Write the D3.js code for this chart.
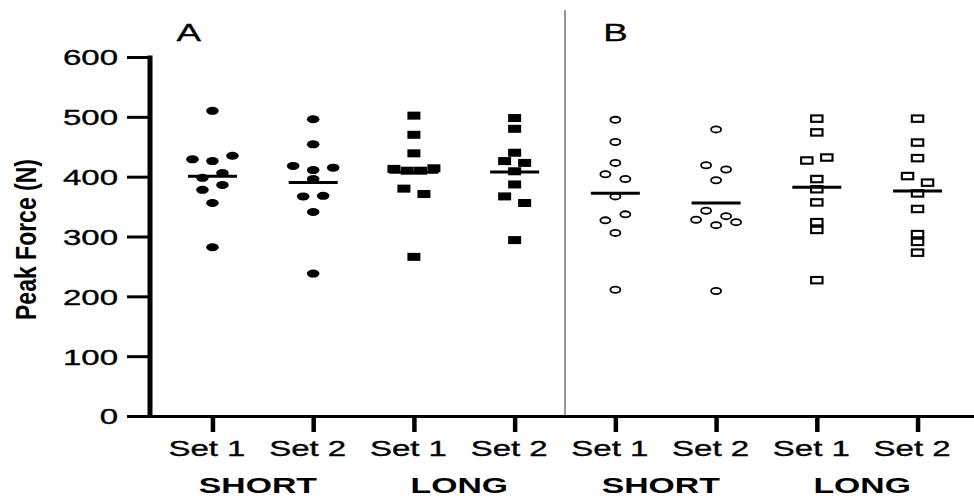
<!DOCTYPE html>
<html><head><meta charset="utf-8">
<script src="https://cdn.jsdelivr.net/npm/d3@7"></script>
<style>body{margin:0;background:#fff} svg{display:block}</style>
</head><body>
<svg id="chart" width="974" height="501"></svg>
<script>
// ---- data ----
const categories = ["Set 1","Set 2","Set 1","Set 2","Set 1","Set 2","Set 1","Set 2"];
const conditions = ["SHORT","LONG","SHORT","LONG"];
const panels = ["A","B"];
const yTicks = [0,100,200,300,400,500,600];
const yLabel = "Peak Force (N)";

const shortSet1A = [510, 429, 426, 435, 398, 406, 378, 386, 356, 282];
const shortSet2A = [496, 454, 418, 411, 415, 396, 367, 368, 341, 238];
const longSet1A  = [502, 470, 439, 413, 410, 410, 414, 380, 371, 266];
const longSet2A  = [498, 480, 440, 426, 423, 409, 387, 367, 356, 294];
const shortSet1B = [495, 458, 423, 404, 396, 367, 327, 337, 306, 211];
const shortSet2B = [479, 419, 412, 394, 343, 334, 328, 319, 324, 209];
const longSet1B  = [497, 474, 427, 432, 396, 379, 357, 324, 311, 227];
const longSet2B  = [497, 457, 431, 401, 390, 372, 346, 304, 291, 273];

const groups = [shortSet1A, shortSet2A, longSet1A, longSet2A, shortSet1B, shortSet2B, longSet1B, longSet2B];

// ---- drawing ----
const SX = 1.5;               // horizontal stretch of the original image
const FONT = "'Liberation Sans', Arial, Helvetica, sans-serif";
const svg = d3.select("#chart");

const x = d3.scalePoint().domain(d3.range(categories.length)).range([150, 980]).padding(0.62);
const y = d3.scaleLinear().domain([0, 600]).range([416, 57]);

// divider between panels
const divX = (x(3) + x(4)) / 2;
svg.append("line").attr("x1", divX).attr("x2", divX).attr("y1", 10).attr("y2", y(0))
  .attr("stroke", "#808080").attr("stroke-width", 1.6);

// y axis
const yAxis = d3.axisLeft(y).tickValues(yTicks).tickSize(23).tickSizeOuter(0).tickPadding(9);
const gy = svg.append("g").attr("transform", "translate(150,0)").call(yAxis);
gy.select(".domain").remove();
gy.selectAll(".tick line").attr("stroke", "#000").attr("stroke-width", 3);
gy.selectAll(".tick text")
  .attr("x", 0).attr("dy", "0.36em")
  .attr("transform", "translate(-32,0) scale(" + SX + ",1)")
  .attr("font-family", FONT).attr("font-size", 22).attr("fill", "#000")
  .attr("stroke", "#000").attr("stroke-width", 0.35);
svg.append("line").attr("x1", 150).attr("x2", 150)
  .attr("y1", y(600) - 1.5).attr("y2", y(0) + 1.5)
  .attr("stroke", "#000").attr("stroke-width", 5);

// x axis
const xAxis = d3.axisBottom(x).tickSize(16).tickSizeOuter(0).tickFormat(i => categories[i]);
const gx = svg.append("g").attr("transform", "translate(0," + y(0) + ")").call(xAxis);
gx.select(".domain").attr("stroke", "#000").attr("stroke-width", 3);
gx.selectAll(".tick line").attr("stroke", "#000").attr("stroke-width", 4.5);
gx.selectAll(".tick text")
  .attr("y", 0).attr("dy", 0)
  .attr("transform", "translate(-6,39.5) scale(" + SX + ",1)")
  .attr("font-family", FONT).attr("font-size", 22).attr("fill", "#000")
  .attr("stroke", "#000").attr("stroke-width", 0.35);

// condition labels
conditions.forEach((c, k) => {
  const cx = (x(2 * k) + x(2 * k + 1)) / 2 - 5;
  svg.append("text").text(c)
    .attr("transform", "translate(" + cx + ",493) scale(" + SX + ",1)")
    .attr("text-anchor", "middle").attr("font-family", FONT)
    .attr("font-weight", "bold").attr("font-size", 22.5).attr("fill", "#000");
});

// panel labels
panels.forEach((p, k) => {
  const px = k === 0 ? x(0) - 36 : x(4) - 12;
  svg.append("text").text(p)
    .attr("transform", "translate(" + px + ",41) scale(" + SX + ",1)")
    .attr("font-family", FONT).attr("font-size", 24.5).attr("fill", "#000")
    .attr("stroke", "#000").attr("stroke-width", 0.3);
});

// y label
svg.append("text").text(yLabel)
  .attr("transform", "translate(36," + ((y(0) + y(600)) / 2 + 3) + ") scale(1.3,1) rotate(-90)")
  .attr("text-anchor", "middle").attr("font-family", FONT)
  .attr("font-weight", "bold").attr("font-size", 23).attr("fill", "#000");

// simple row-based swarm offsets
function swarm(values) {
  const idx = values.map((v, i) => i).sort((a, b) => values[b] - values[a] || a - b);
  const rows = [];
  let cur = null;
  for (const i of idx) {
    if (cur && y(values[i]) - y(values[cur[0]]) < 7.5) cur.push(i);
    else { cur = [i]; rows.push(cur); }
  }
  const off = new Array(values.length);
  rows.forEach(r => {
    r.sort((a, b) => a - b);
    const n = r.length, sp = n <= 3 ? 20 : 40 / (n - 1);
    r.forEach((i, k) => off[i] = (k - (n - 1) / 2) * sp);
  });
  return off;
}

const markerType = ["fc", "fc", "fs", "fs", "oc", "oc", "os", "os"];
groups.forEach((vals, g) => {
  const off = swarm(vals);
  const gg = svg.append("g");
  const t = markerType[g];
  vals.forEach((v, i) => {
    const cx = x(g) + off[i], cy = y(v);
    if (t === "fc") gg.append("ellipse").attr("cx", cx).attr("cy", cy).attr("rx", 6.3).attr("ry", 4).attr("fill", "#000");
    else if (t === "fs") gg.append("rect").attr("x", cx - 6.5).attr("y", cy - 4).attr("width", 13).attr("height", 8).attr("fill", "#000");
    else if (t === "oc") gg.append("ellipse").attr("cx", cx).attr("cy", cy).attr("rx", 5).attr("ry", 3.1).attr("fill", "#fff").attr("stroke", "#000").attr("stroke-width", 1.8);
    else gg.append("rect").attr("x", cx - 5.7).attr("y", cy - 3.2).attr("width", 11.4).attr("height", 6.4).attr("fill", "#fff").attr("stroke", "#000").attr("stroke-width", 2.1);
  });
  const m = d3.mean(vals);
  svg.append("line").attr("x1", x(g) - 24.5).attr("x2", x(g) + 24.5)
    .attr("y1", y(m)).attr("y2", y(m)).attr("stroke", "#000").attr("stroke-width", 3);
});
</script>
</body></html>
